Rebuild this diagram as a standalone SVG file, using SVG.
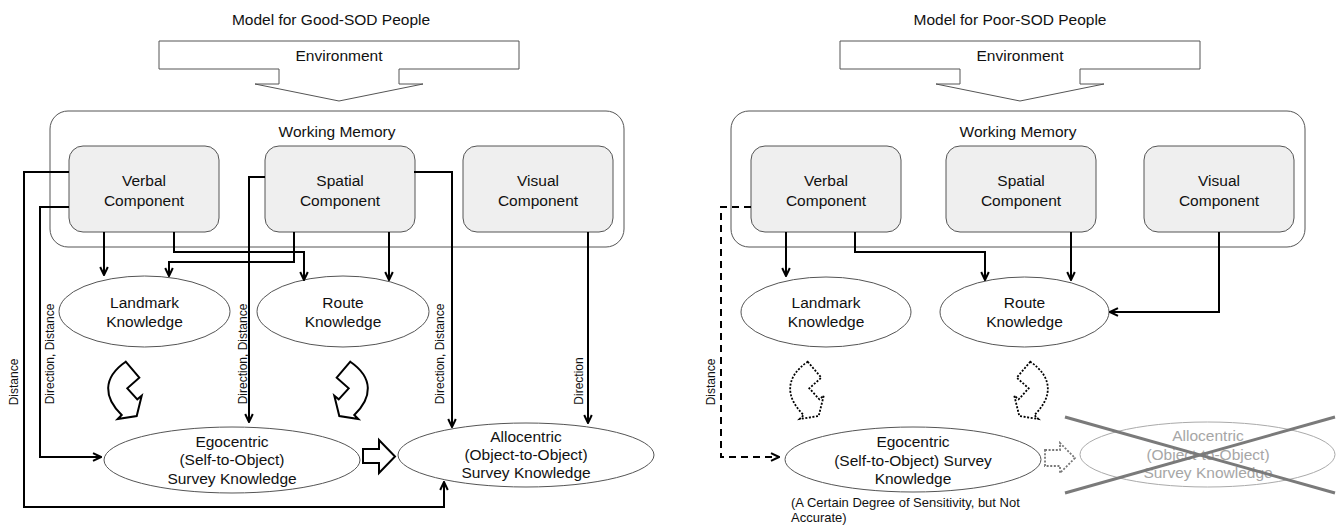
<svg xmlns="http://www.w3.org/2000/svg" width="1338" height="526" viewBox="0 0 1338 526">
  <defs>
    <style>
      text { font-family: "Liberation Sans", Arial, Helvetica, sans-serif; fill: #111; }
      .t { font-size: 15.5px; text-anchor: middle; }
      .lbl { font-size: 12px; text-anchor: middle; }
      .note { font-size: 13px; }
      .frame { fill: #fff; stroke: #555; stroke-width: 1; }
      .comp { fill: #efefef; stroke: #555; stroke-width: 1; }
      .know { fill: #fff; stroke: #555; stroke-width: 1; }
      .wire { fill: none; stroke: #000; stroke-width: 2; marker-end: url(#head); }
      .dash { stroke-dasharray: 7 5; }
      .bend { fill: #fff; stroke: #000; stroke-width: 2; stroke-linejoin: miter; }
      .dotted { fill: #fff; stroke: #000; stroke-width: 1.8; stroke-dasharray: 2 1.6; }
      .grey-dotted { fill: #fff; stroke: #777; stroke-width: 1.8; stroke-dasharray: 2 1.6; }
      .faded { fill: #fff; stroke: #aaa; stroke-width: 1; }
      .faded-t { fill: #a6a6a6; }
      .cross { stroke: #7a7a7a; stroke-width: 3; }
    </style>
    <marker id="head" viewBox="0 0 10 10" refX="9" refY="5" markerWidth="10" markerHeight="10" orient="auto" markerUnits="userSpaceOnUse">
      <path d="M1,1.2 L9,5 L1,8.8" fill="none" stroke="#000" stroke-width="2"/>
    </marker>
  </defs>

  <rect width="1338" height="526" fill="#fff"/>

  <!-- ===== Good-SOD model ===== -->
  <text class="t" x="331" y="25">Model for Good-SOD People</text>

  <g id="env-good">
    <path class="frame" d="M159,41 H519 V69 H399 V84 H423 L339,101 L255,84 H279 V69 H159 Z"/>
    <text class="t" x="339" y="61">Environment</text>
  </g>

  <g id="wm-good">
    <rect class="frame" x="50" y="111" width="574" height="136" rx="18"/>
    <text class="t" x="337" y="137">Working Memory</text>
  </g>

  <g id="verbal-good">
    <rect class="comp" x="69" y="146" width="150" height="86" rx="14"/>
    <text class="t" x="144" y="186">Verbal</text>
    <text class="t" x="144" y="205.5">Component</text>
  </g>
  <g id="spatial-good">
    <rect class="comp" x="265" y="146" width="150" height="86" rx="14"/>
    <text class="t" x="340" y="186">Spatial</text>
    <text class="t" x="340" y="205.5">Component</text>
  </g>
  <g id="visual-good">
    <rect class="comp" x="463" y="146" width="150" height="86" rx="14"/>
    <text class="t" x="538" y="186">Visual</text>
    <text class="t" x="538" y="205.5">Component</text>
  </g>

  <g id="landmark-good">
    <ellipse class="know" cx="144.5" cy="311.5" rx="85.5" ry="35.5"/>
    <text class="t" x="144.5" y="308">Landmark</text>
    <text class="t" x="144.5" y="327">Knowledge</text>
  </g>
  <g id="route-good">
    <ellipse class="know" cx="343" cy="311.5" rx="86" ry="35.5"/>
    <text class="t" x="343" y="308">Route</text>
    <text class="t" x="343" y="327">Knowledge</text>
  </g>
  <g id="ego-good">
    <ellipse class="know" cx="232" cy="460" rx="128" ry="33"/>
    <text class="t" x="232" y="446.5">Egocentric</text>
    <text class="t" x="232" y="465">(Self-to-Object)</text>
    <text class="t" x="232" y="483.5">Survey Knowledge</text>
  </g>
  <g id="allo-good">
    <ellipse class="know" cx="526" cy="455" rx="128" ry="32"/>
    <text class="t" x="526" y="441.5">Allocentric</text>
    <text class="t" x="526" y="459.5">(Object-to-Object)</text>
    <text class="t" x="526" y="477.5">Survey Knowledge</text>
  </g>

  <!-- curved block arrows: landmark/route knowledge feeding survey knowledge -->
  <g id="transitions-good">
    <path class="bend" d="M125.7,361.7 L139.3,377.7 L127.3,388.3 L137.3,399.3 L141.7,395.7 L136.7,416 L117.7,419 L121.7,415 C104,398 102,378 125.7,361.7 Z"/>
    <path class="bend" transform="matrix(-1,0,0,1,476,0)" d="M125.7,361.7 L139.3,377.7 L127.3,388.3 L137.3,399.3 L141.7,395.7 L136.7,416 L117.7,419 L121.7,415 C104,398 102,378 125.7,361.7 Z"/>
    <path class="bend" d="M363,449 H379 V440 L395,456.5 L379,473 V463 H363 Z"/>
  </g>

  <g id="connectors-good">
    <path class="wire" d="M69,172 H24 V507 H444 V482"/>
    <path class="wire" d="M69,207 H40 V457 H101"/>
    <path class="wire" d="M104,232 V275"/>
    <path class="wire" d="M174,232 V252 H304 V280"/>
    <path class="wire" d="M294,232 V262 H169 V276"/>
    <path class="wire" d="M389,232 V280"/>
    <path class="wire" d="M265,177 H249 V422"/>
    <path class="wire" d="M414,172 H452 V427"/>
    <path class="wire" d="M588,232 V423"/>
    <text class="lbl" transform="translate(18,382) rotate(-90)">Distance</text>
    <text class="lbl" transform="translate(54,354) rotate(-90)">Direction, Distance</text>
    <text class="lbl" transform="translate(246.5,354) rotate(-90)">Direction, Distance</text>
    <text class="lbl" transform="translate(444,354) rotate(-90)">Direction, Distance</text>
    <text class="lbl" transform="translate(583,381) rotate(-90)">Direction</text>
  </g>

  <!-- ===== Poor-SOD model ===== -->
  <text class="t" x="1010" y="25">Model for Poor-SOD People</text>

  <g id="env-poor">
    <path class="frame" d="M840,41 H1200 V69 H1080 V84 H1104 L1020,101 L936,84 H960 V69 H840 Z"/>
    <text class="t" x="1020" y="61">Environment</text>
  </g>

  <g id="wm-poor">
    <rect class="frame" x="731" y="111" width="574" height="136" rx="18"/>
    <text class="t" x="1018" y="137">Working Memory</text>
  </g>

  <g id="verbal-poor">
    <rect class="comp" x="751" y="146" width="150" height="86" rx="14"/>
    <text class="t" x="826" y="186">Verbal</text>
    <text class="t" x="826" y="205.5">Component</text>
  </g>
  <g id="spatial-poor">
    <rect class="comp" x="946" y="146" width="150" height="86" rx="14"/>
    <text class="t" x="1021" y="186">Spatial</text>
    <text class="t" x="1021" y="205.5">Component</text>
  </g>
  <g id="visual-poor">
    <rect class="comp" x="1144" y="146" width="150" height="86" rx="14"/>
    <text class="t" x="1219" y="186">Visual</text>
    <text class="t" x="1219" y="205.5">Component</text>
  </g>

  <g id="landmark-poor">
    <ellipse class="know" cx="826" cy="312" rx="85" ry="35"/>
    <text class="t" x="826" y="307.5">Landmark</text>
    <text class="t" x="826" y="326.5">Knowledge</text>
  </g>
  <g id="route-poor">
    <ellipse class="know" cx="1024.5" cy="312" rx="84.5" ry="35"/>
    <text class="t" x="1024.5" y="307.5">Route</text>
    <text class="t" x="1024.5" y="326.5">Knowledge</text>
  </g>
  <g id="ego-poor">
    <ellipse class="know" cx="913" cy="459.5" rx="128" ry="32.5"/>
    <text class="t" x="913" y="446.5">Egocentric</text>
    <text class="t" x="913" y="466">(Self-to-Object) Survey</text>
    <text class="t" x="913" y="484">Knowledge</text>
    <text class="note" x="791" y="507">(A Certain Degree of Sensitivity, but Not</text>
    <text class="note" x="791" y="522">Accurate)</text>
  </g>
  <g id="allo-poor">
    <ellipse class="faded" cx="1207.5" cy="454.5" rx="127.5" ry="32.5"/>
    <text class="t faded-t" x="1208" y="441">Allocentric</text>
    <text class="t faded-t" x="1208" y="460">(Object-to-Object)</text>
    <text class="t faded-t" x="1208" y="478">Survey Knowledge</text>
    <line class="cross" x1="1065" y1="417" x2="1335" y2="493"/>
    <line class="cross" x1="1065" y1="493" x2="1335" y2="417"/>
  </g>

  <!-- weak transitions drawn dotted -->
  <g id="transitions-poor">
    <path class="dotted" transform="translate(682,0)" d="M125.7,361.7 L139.3,377.7 L127.3,388.3 L137.3,399.3 L141.7,395.7 L136.7,416 L117.7,419 L121.7,415 C104,398 102,378 125.7,361.7 Z"/>
    <path class="dotted" transform="matrix(-1,0,0,1,1156,0)" d="M125.7,361.7 L139.3,377.7 L127.3,388.3 L137.3,399.3 L141.7,395.7 L136.7,416 L117.7,419 L121.7,415 C104,398 102,378 125.7,361.7 Z"/>
    <path class="grey-dotted" d="M1045,450 H1060 V443 L1075,458 L1060,473 V466 H1045 Z"/>
  </g>

  <g id="connectors-poor">
    <path class="wire dash" d="M751,207 H721 V457 H779"/>
    <path class="wire" d="M786,232 V276"/>
    <path class="wire" d="M855,232 V252 H985 V280"/>
    <path class="wire" d="M1071,232 V280"/>
    <path class="wire" d="M1219,232 V312 H1110"/>
    <text class="lbl" transform="translate(715,382) rotate(-90)">Distance</text>
  </g>
</svg>
